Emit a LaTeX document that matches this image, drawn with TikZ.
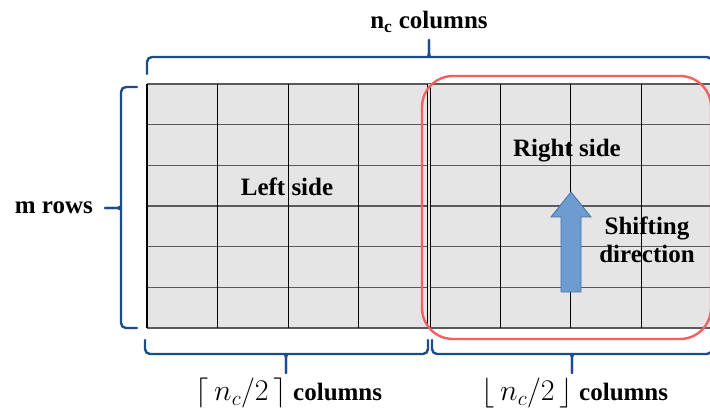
\RequirePackage{fix-cm}
\documentclass[tikz,border=0pt]{standalone}
\usepackage{fontspec}
\setmainfont{Liberation Serif}
\usepackage{tikz}
\definecolor{bracecol}{RGB}{28,76,140}
\definecolor{cellgray}{RGB}{229,229,229}
\definecolor{linegray}{RGB}{90,90,90}
\definecolor{redbox}{RGB}{240,98,98}
\definecolor{arrowfill}{RGB}{110,156,208}
\definecolor{arrowline}{RGB}{70,112,166}

\begin{document}
\begin{tikzpicture}[
  x=1pt, y=1pt,
  lbl/.style={font=\fontsize{25}{28}\selectfont\bfseries, inner sep=0pt, anchor=base},
  brc/.style={draw=bracecol, line width=2.4pt, rounded corners=5pt, line cap=round},
  hline/.style={draw=linegray, line width=1.4pt},
  vline/.style={draw=black, line width=1.2pt},
  sidebox/.style={draw=redbox, line width=2.4pt, rounded corners=31pt},
  shiftarrow/.style={fill=arrowfill, draw=arrowline, line width=0.8pt}
]
  \clip (0,0) rectangle (710,412);

  % matrix of cells
  \fill[cellgray] (147,84) rectangle (712,328);
  \foreach \i in {0,...,6}
    \draw[hline] (147,{84+\i*244/6}) -- (712,{84+\i*244/6});
  \foreach \i in {0,1,2,3,5,6,7,8}
    \draw[vline] ({147+\i*70.625},84) -- ({147+\i*70.625},328);
  \draw[black, line width=1.1pt, double=cellgray, double distance=2.4pt] (429,84) -- (429,328);

  \draw[sidebox] (422,73) rectangle (711,336);

  % shifting arrow
  \draw[shiftarrow] (571,220) -- (591,195) -- (581,195) -- (581,120)
    -- (561,120) -- (561,195) -- (551,195) -- cycle;

  % braces
  \draw[brc] (147,338) -- (147,355) -- (423,355) .. controls (428,355) and (429,358) .. (429,364) -- (429,372);
  \draw[brc] (712,338) -- (712,355) -- (435,355) .. controls (430,355) and (429,358) .. (429,364) -- (429,372);
  \draw[brc] (137,325) -- (121,325) -- (121,210) .. controls (121,206) and (118,204) .. (113,204) -- (105,204);
  \draw[brc] (137,84) -- (121,84) -- (121,198) .. controls (121,202) and (118,204) .. (113,204) -- (105,204);
  \draw[brc] (145,72) -- (145,58) -- (280,58) .. controls (285,58) and (286,55) .. (286,50) -- (286,39);
  \draw[brc] (428,72) -- (428,58) -- (292,58) .. controls (287,58) and (286,55) .. (286,50) -- (286,39);
  \draw[brc] (432,72) -- (432,58) -- (566,58) .. controls (571,58) and (572,55) .. (572,50) -- (572,39);
  \draw[brc] (712,72) -- (712,58) -- (578,58) .. controls (573,58) and (572,55) .. (572,50) -- (572,39);

  \node[lbl] (title) at (429,383) {n\textsubscript{c} columns};
  \node[lbl, anchor=base east] (rows) at (93,198) {m rows};
  \node[lbl] (left) at (287,216) {Left side};
  \node[lbl] (right) at (567,255) {Right side};
  \node[lbl] (shift) at (647,177) {Shifting};
  \node[lbl] (dir) at (647,149) {direction};
  \node[lbl] (ceil) at (289,11) {{\mdseries\fontsize{30}{34}\selectfont$\lceil\, n_c/2\,\rceil$}~columns};
  \node[lbl] (floor) at (575,11) {{\mdseries\fontsize{30}{34}\selectfont$\lfloor\, n_c/2\,\rfloor$}~columns};
\end{tikzpicture}
\end{document}
